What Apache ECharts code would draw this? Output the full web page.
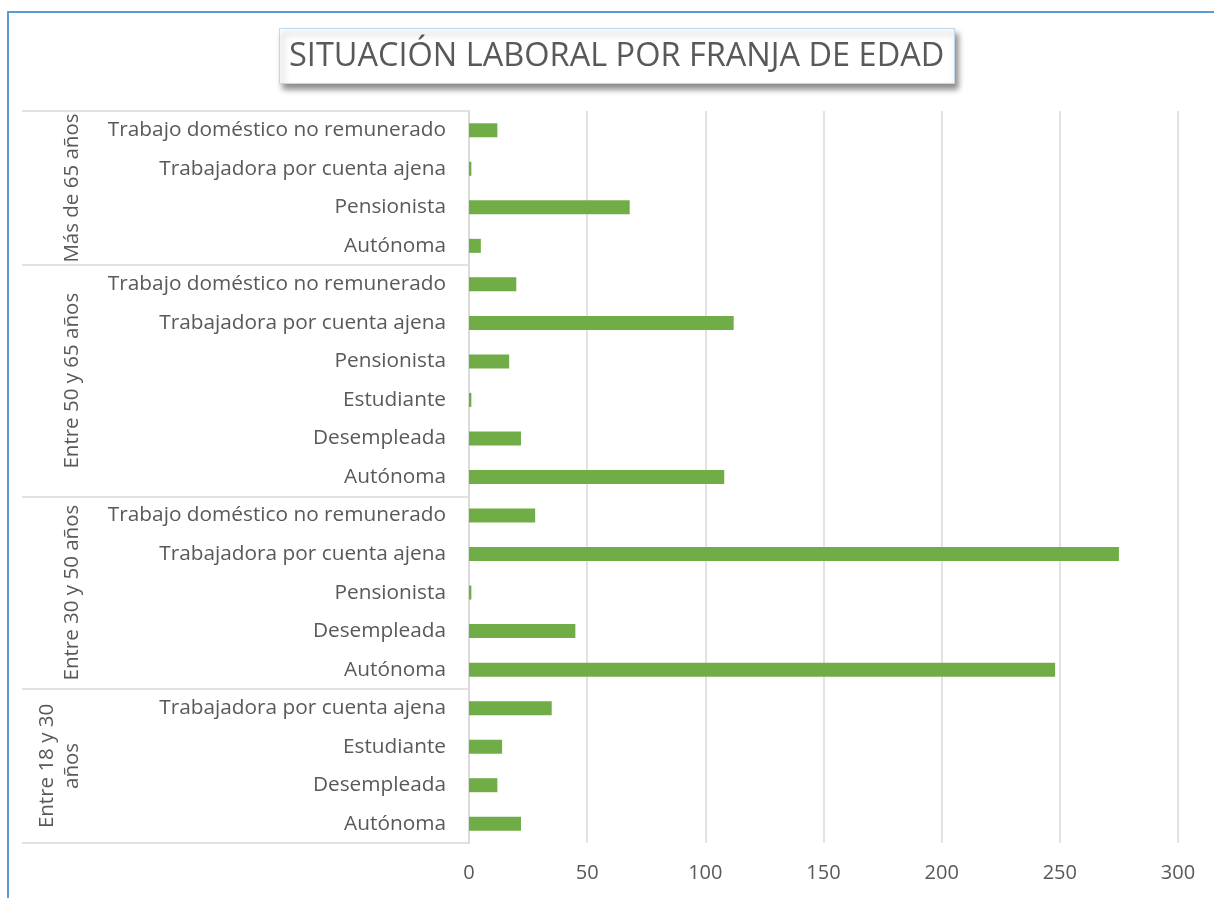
<!DOCTYPE html>
<html>
<head>
<meta charset="utf-8">
<title>Situación laboral por franja de edad</title>
<script src="https://cdn.jsdelivr.net/npm/echarts@6/dist/echarts.min.js"></script>
<style>
  html, body { margin: 0; padding: 0; background: #fff; overflow: hidden; }
  #chart { width: 1214px; height: 898px; }
  /* borde azul del área del gráfico (solo se ve arriba y a la izquierda) */
  .marco {
    position: absolute; left: 7px; top: 11px; width: 1300px; height: 1000px;
    border-left: 2px solid #5B9BD5; border-top: 2px solid #5B9BD5;
    pointer-events: none;
  }
</style>
</head>
<body>
<div id="chart"></div>
<div class="marco"></div>
<script>
// categorías de abajo hacia arriba (el eje de categorías empieza abajo)
var categorias = [
  // Entre 18 y 30 años
  'Autónoma', 'Desempleada', 'Estudiante', 'Trabajadora por cuenta ajena',
  // Entre 30 y 50 años
  'Autónoma', 'Desempleada', 'Pensionista', 'Trabajadora por cuenta ajena', 'Trabajo doméstico no remunerado',
  // Entre 50 y 65 años
  'Autónoma', 'Desempleada', 'Estudiante', 'Pensionista', 'Trabajadora por cuenta ajena', 'Trabajo doméstico no remunerado',
  // Más de 65 años
  'Autónoma', 'Pensionista', 'Trabajadora por cuenta ajena', 'Trabajo doméstico no remunerado'
];
var valores = [
  22, 12, 14, 35,
  248, 45, 1, 275, 28,
  108, 22, 1, 17, 112, 20,
  5, 68, 1, 12
];
var franjas = ['Entre 18 y 30\naños', 'Entre 30 y 50 años', 'Entre 50 y 65 años', 'Más de 65 años'];
var tamanoFranja = [4, 5, 6, 4];
var ticksX = [0, 50, 100, 150, 200, 250, 300];

// límites y centros de cada franja (en unidades de categoría)
var limites = [0];
var centros = [];
tamanoFranja.forEach(function (n, i) {
  centros.push(limites[i] + n / 2);
  limites.push(limites[i] + n);
});

var gris = '#595959';
var linea = '#D9D9D9';
var fuente = 'Open Sans';

var myChart = echarts.init(document.getElementById('chart'));
myChart.setOption({
  animation: false,
  textStyle: { fontFamily: fuente },
  title: {
    text: 'SITUACIÓN LABORAL POR FRANJA DE EDAD',
    left: 279,
    top: 28,
    padding: [12, 10, 11, 10],
    backgroundColor: '#fff',
    borderColor: '#BDD7EE',
    borderWidth: 1,
    shadowColor: 'rgba(0,0,0,0.45)',
    shadowBlur: 6,
    shadowOffsetX: 3,
    shadowOffsetY: 5,
    textStyle: { fontFamily: fuente, fontSize: 32.5, fontWeight: 'normal', color: gris }
  },
  grid: { left: 469, right: 36, top: 111, bottom: 55, containLabel: false },
  xAxis: {
    type: 'value',
    min: ticksX[0],
    max: ticksX[ticksX.length - 1],
    interval: ticksX[1] - ticksX[0],
    axisLine: { show: false },
    axisTick: { show: false },
    splitLine: { lineStyle: { color: linea, width: 1.5 } },
    axisLabel: { margin: 20, fontSize: 20, color: gris }
  },
  yAxis: [
    {
      type: 'category',
      data: categorias,
      axisLine: { lineStyle: { color: linea, width: 1.5 } },
      axisTick: { show: false },
      axisLabel: { margin: 23, fontSize: 20.8, color: gris, interval: 0 }
    },
    {
      type: 'value',
      position: 'left',
      min: 0,
      max: limites[limites.length - 1],
      axisLine: { show: false },
      splitLine: { show: false },
      axisTick: {
        show: true,
        customValues: limites,
        length: 447,
        lineStyle: { color: linea, width: 1.5 }
      },
      axisLabel: {
        customValues: centros,
        rotate: 90,
        margin: 384,
        fontSize: 20.5,
        lineHeight: 25,
        color: gris,
        formatter: function (v) {
          return franjas[centros.indexOf(v)];
        }
      }
    }
  ],
  series: [
    {
      type: 'bar',
      yAxisIndex: 0,
      data: valores,
      barWidth: 14,
      itemStyle: { color: '#70AD47' }
    }
  ]
});
</script>
</body>
</html>
